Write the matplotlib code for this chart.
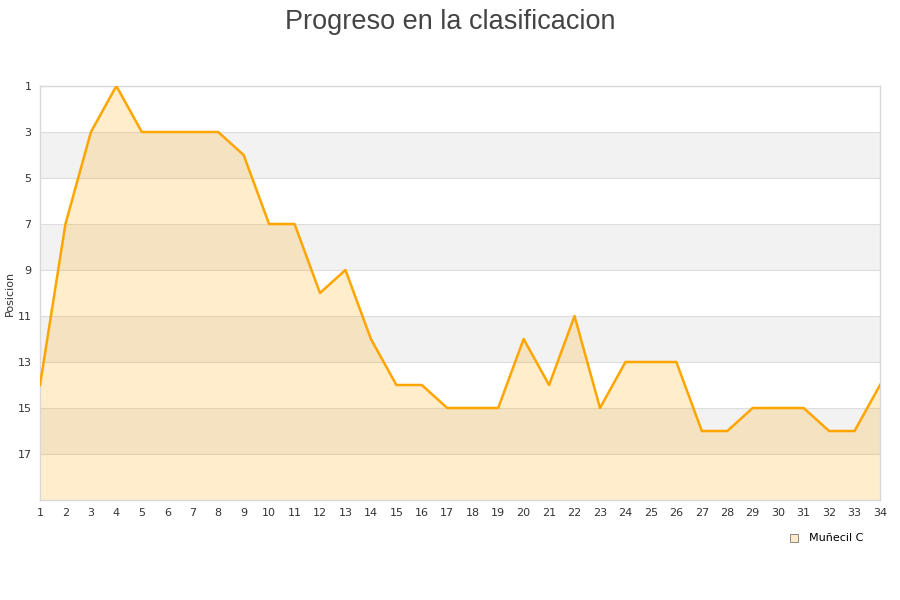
import matplotlib
matplotlib.use('Agg')
import matplotlib.pyplot as plt
import numpy as np

jornadas = list(range(1, 35))
posicion = [14, 7, 3, 1, 3, 3, 3, 3, 4, 7, 7, 10, 9, 12, 14, 14, 15, 15, 15, 12,
            14, 11, 15, 13, 13, 13, 16, 16, 15, 15, 15, 16, 16, 14]
y_ticks = [1, 3, 5, 7, 9, 11, 13, 15, 17]
equipo = 'Muñecil C'

fig = plt.figure(figsize=(9, 6), dpi=100)
ax = fig.add_axes([40/900, 100/600, 840/900, 414/600])

# bandas alternas
for i, lo in enumerate(range(1, 19, 2)):
    if i % 2 == 1:
        ax.axhspan(lo, lo + 2, color='#f2f2f2', zorder=0, lw=0)
for t in y_ticks[1:]:
    ax.axhline(t, color='#dddddd', lw=0.8, zorder=1)

ax.fill_between(jornadas, posicion, 19, color='#ffa500', alpha=0.2, lw=0, zorder=2)
ax.plot(jornadas, posicion, color='#ffa500', lw=1.8, zorder=3)

ax.set_xlim(1, 34)
ax.set_ylim(19, 1)
ax.set_xticks(jornadas)
ax.set_yticks(y_ticks)
ax.tick_params(length=0, labelsize=8, colors='#333333', pad=6)
for s in ax.spines.values():
    s.set_color('#d8d8d8')
    s.set_linewidth(1)

ax.set_ylabel('Posicion', fontsize=8, color='#333333')
ax.yaxis.set_label_coords(-25/840, 0.5)
fig.text(0.5, 0.985, 'Progreso en la clasificacion', ha='center', va='top',
         fontsize=19.5, color='#444444', family='Liberation Sans')

h = ax.scatter([], [], marker='s', s=40, facecolor='#ffebcc', edgecolor='#777777', lw=0.6)
fig.legend([h], [equipo], loc='upper right', bbox_to_anchor=(0.97, 0.128),
           frameon=False, fontsize=8, handletextpad=0.3, markerscale=0.8)

plt.savefig('out.png')
